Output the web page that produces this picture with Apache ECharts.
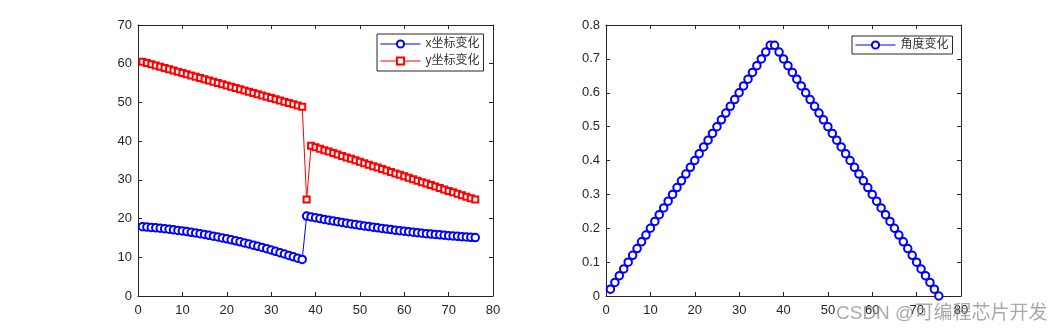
<!DOCTYPE html>
<html>
<head>
<meta charset="utf-8">
<script src="https://cdn.jsdelivr.net/npm/echarts@6/dist/echarts.min.js"></script>
<style>
html,body{margin:0;padding:0;background:#fff;}
#chart{width:1063px;height:334px;}
</style>
</head>
<body>
<div id="chart"></div>
<script>
// ---- data ----
const sampleIndex = [1,2,3,4,5,6,7,8,9,10,11,12,13,14,15,16,17,18,19,20,21,22,23,24,25,26,27,28,29,30,31,32,33,34,35,36,37,38,39,40,41,42,43,44,45,46,47,48,49,50,51,52,53,54,55,56,57,58,59,60,61,62,63,64,65,66,67,68,69,70,71,72,73,74,75,76];

const xCoordChange = [17.90,17.81,17.71,17.61,17.50,17.37,17.24,17.10,16.95,16.80,16.63,16.46,16.28,16.09,15.89,15.68,15.46,15.24,15.01,14.77,14.52,14.26,13.99,13.71,13.43,13.14,12.84,12.53,12.21,11.88,11.55,11.20,10.85,10.49,10.12,9.78,9.45,
  20.65,20.43,20.21,20.00,19.79,19.59,19.39,19.19,19.00,18.81,18.63,18.45,18.27,18.10,17.93,17.77,17.61,17.45,17.30,17.15,17.01,16.87,16.73,16.60,16.47,16.35,16.23,16.11,16.00,15.89,15.79,15.69,15.59,15.50,15.41,15.33,15.25,15.17,15.10];

const yCoordChange = [60.50,60.18,59.86,59.53,59.21,58.89,58.57,58.25,57.92,57.60,57.28,56.96,56.64,56.31,55.99,55.67,55.35,55.03,54.70,54.38,54.06,53.74,53.42,53.09,52.77,52.45,52.13,51.81,51.48,51.16,50.84,50.52,50.20,49.87,49.55,49.23,48.91,
  24.90,38.80,38.42,38.05,37.67,37.30,36.92,36.55,36.17,35.79,35.42,35.04,34.67,34.29,33.92,33.54,33.16,32.79,32.41,32.04,31.66,31.29,30.91,30.53,30.16,29.78,29.41,29.03,28.66,28.28,27.90,27.53,27.15,26.78,26.40,26.03,25.65,25.27,24.90];

const angleIndex = [1,2,3,4,5,6,7,8,9,10,11,12,13,14,15,16,17,18,19,20,21,22,23,24,25,26,27,28,29,30,31,32,33,34,35,36,37,38,39,40,41,42,43,44,45,46,47,48,49,50,51,52,53,54,55,56,57,58,59,60,61,62,63,64,65,66,67,68,69,70,71,72,73,74,75];
const angleChange = [0.02,0.04,0.06,0.08,0.10,0.12,0.14,0.16,0.18,0.20,0.22,0.24,0.26,0.28,0.30,0.32,0.34,0.36,0.38,0.40,0.42,0.44,0.46,0.48,0.50,0.52,0.54,0.56,0.58,0.60,0.62,0.64,0.66,0.68,0.70,0.72,0.74,
  0.74,0.72,0.70,0.68,0.66,0.64,0.62,0.60,0.58,0.56,0.54,0.52,0.50,0.48,0.46,0.44,0.42,0.40,0.38,0.36,0.34,0.32,0.30,0.28,0.26,0.24,0.22,0.20,0.18,0.16,0.14,0.12,0.10,0.08,0.06,0.04,0.02,0.00];

const seriesNames = ['x坐标变化', 'y坐标变化', '角度变化'];
const watermarkText = 'CSDN @可编程芯片开发';

// ---- chart ----
const FONT = "Arial, 'Liberation Sans', 'Noto Sans CJK SC', sans-serif";
const AX = '#262626';
function pairs(xs, ys){ return ys.map((v,i)=>[xs[i], v]); }

function axisPair(gridIndex, dim, min, max, interval){
  const main = {
    type:'value', gridIndex, min, max, interval,
    position: dim==='x' ? 'bottom' : 'left',
    axisLine:{show:true, onZero:false, lineStyle:{color:AX, width:1}},
    axisTick:{show:true, inside:true, length:4, lineStyle:{color:AX}},
    axisLabel:{color:AX, fontSize:13, fontFamily:FONT, margin: dim==='x'?8:6},
    splitLine:{show:false}
  };
  const mirror = {
    type:'value', gridIndex, min, max, interval,
    position: dim==='x' ? 'top' : 'right',
    axisLine:{show:true, onZero:false, lineStyle:{color:AX, width:1}},
    axisTick:{show:true, inside:true, length:4, lineStyle:{color:AX}},
    axisLabel:{show:false},
    splitLine:{show:false}
  };
  return [main, mirror];
}

const xAxes = [...axisPair(0,'x',0,80,10), ...axisPair(1,'x',0,80,10)];
const yAxes = [...axisPair(0,'y',0,70,10), ...axisPair(1,'y',0,0.8,0.1)];

const legendBase = {
  orient:'vertical', itemWidth:40, itemHeight:9,
  borderColor:'#262626', borderWidth:1, borderRadius:0, backgroundColor:'#fff',
  lineStyle:{width:1}, itemStyle:{borderWidth:1},
  textStyle:{fontSize:12, color:'#333', fontFamily:FONT}
};

const chart = echarts.init(document.getElementById('chart'), null, {renderer:'canvas'});
chart.setOption({
  animation:false,
  backgroundColor:'#fff',
  grid:[
    {left:138, top:25, width:355, height:271},
    {left:606, top:25, width:355, height:271}
  ],
  xAxis:xAxes,
  yAxis:yAxes,
  legend:[
    Object.assign({}, legendBase, {data:[seriesNames[0], seriesNames[1]], left:377, top:34,
      padding:[4,4,4,3], itemGap:5}),
    Object.assign({}, legendBase, {data:[seriesNames[2]], left:852, top:36,
      padding:[3,4,3,3]})
  ],
  series:[
    {name:seriesNames[0], type:'line', xAxisIndex:0, yAxisIndex:0,
     data:pairs(sampleIndex, xCoordChange), symbol:'emptyCircle', symbolSize:7.5, showAllSymbol:true,
     lineStyle:{color:'#0000ff', width:1}, itemStyle:{color:'#0000ff', borderWidth:0.9}},
    {name:seriesNames[1], type:'line', xAxisIndex:0, yAxisIndex:0,
     data:pairs(sampleIndex, yCoordChange), symbol:'emptyRect', symbolSize:6, showAllSymbol:true,
     lineStyle:{color:'#ff0000', width:1}, itemStyle:{color:'#ff0000', borderWidth:0.9}},
    {name:seriesNames[2], type:'line', xAxisIndex:2, yAxisIndex:2,
     data:pairs(angleIndex, angleChange), symbol:'emptyCircle', symbolSize:7.5, showAllSymbol:true,
     lineStyle:{color:'#0000ff', width:1}, itemStyle:{color:'#0000ff', borderWidth:0.9}}
  ],
  graphic:[
    {type:'text', left:836, top:304, z:100,
     style:{text:watermarkText, fontSize:19, fontFamily:FONT, fill:'rgba(140,140,140,0.75)'}}
  ]
});
</script>
</body>
</html>
